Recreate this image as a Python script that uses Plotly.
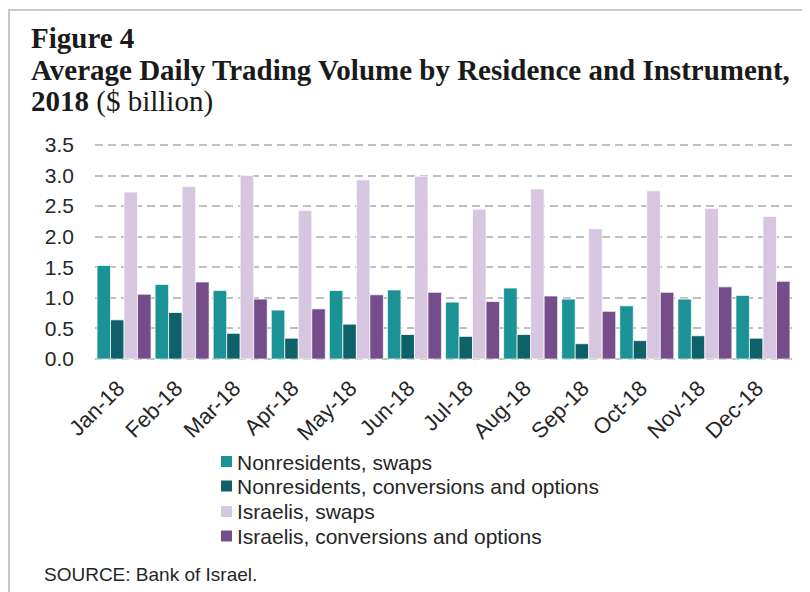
import plotly.graph_objects as go

months = ["Jan-18", "Feb-18", "Mar-18", "Apr-18", "May-18", "Jun-18",
          "Jul-18", "Aug-18", "Sep-18", "Oct-18", "Nov-18", "Dec-18"]
nonres_swaps = [1.53, 1.22, 1.12, 0.80, 1.12, 1.13, 0.93, 1.16, 0.98, 0.87, 0.98, 1.04]
nonres_conv = [0.64, 0.76, 0.42, 0.34, 0.57, 0.40, 0.37, 0.40, 0.25, 0.30, 0.38, 0.34]
isr_swaps = [2.73, 2.82, 3.00, 2.43, 2.93, 2.99, 2.45, 2.78, 2.13, 2.75, 2.46, 2.33]
isr_conv = [1.06, 1.26, 0.98, 0.82, 1.05, 1.09, 0.94, 1.03, 0.78, 1.09, 1.18, 1.27]
y_ticks = [0, 0.5, 1, 1.5, 2, 2.5, 3, 3.5]
y_tick_labels = ["0.0", "0.5", "1.0", "1.5", "2.0", "2.5", "3.0", "3.5"]

series_names = ["Nonresidents, swaps", "Nonresidents, conversions and options",
                "Israelis, swaps", "Israelis, conversions and options"]
series_values = [nonres_swaps, nonres_conv, isr_swaps, isr_conv]
colors = ["#1A9296", "#0E6168", "#D6C6DF", "#744D8A"]

# the page body adds an 8px margin; work in window pixels and shift
OFF = 8
W, H = 810 - OFF, 592 - OFF
PAD = 3  # extra px above 3.5 and below 0 so the end gridlines are drawn
Y0, Y35 = 359, 145  # window px of 0.0 and 3.5
L, R, T, B = 95, 792, Y35 - PAD, Y0 + PAD  # plot area edges in window pixels
unit = (Y0 - Y35) / 3.5


def px_x(p):
    return (p - L) / (R - L)


def px_y(p):
    return (B - p) / (B - T)


fig = go.Figure()
for name, vals, col in zip(series_names, series_values, colors):
    fig.add_trace(go.Bar(
        x=months, y=vals, name=name, showlegend=False,
        marker=dict(color=col, line=dict(color="rgba(255,255,255,0.7)", width=1)),
    ))

sans = "Arial, Liberation Sans, sans-serif"
serif = "Times New Roman, Liberation Serif, serif"
txt = "#262626"

fig.update_layout(
    width=W, height=H,
    margin=dict(l=L - OFF, r=W - (R - OFF), t=T - OFF, b=H - (B - OFF), autoexpand=False),
    paper_bgcolor="white", plot_bgcolor="white",
    barmode="group", bargap=0.07, bargroupgap=0,
    font=dict(family=sans, color=txt, size=20),
    showlegend=False,
    xaxis=dict(
        tickangle=-45, showgrid=False, zeroline=False, showline=False,
        ticks="", ticklabelstandoff=8, ticklabelshift=-6,
        tickfont=dict(size=22, family=sans, color=txt),
    ),
    yaxis=dict(
        range=[-PAD / unit, 3.5 + PAD / unit], tickvals=y_ticks, ticktext=y_tick_labels,
        showgrid=True, gridcolor="#BFBFBF", gridwidth=2, griddash="8px,5px",
        zeroline=False, showline=False, ticks="",
        ticklabelstandoff=20,
        tickfont=dict(size=21, family=sans, color=txt),
    ),
)

# outer frame (top and left edges visible)
fig.add_shape(type="rect", xref="paper", yref="paper",
              x0=px_x(9), x1=px_x(830), y0=px_y(620), y1=px_y(10),
              line=dict(color="#C8C8C8", width=2), fillcolor="rgba(0,0,0,0)", layer="below")

# title
fig.add_annotation(text="<b>Figure 4</b>", xref="paper", yref="paper",
                   x=px_x(29), y=px_y(38), xanchor="left", yanchor="middle",
                   showarrow=False, font=dict(family=serif, size=29, color="#1a1a1a"))
fig.add_annotation(text="<b>Average Daily Trading Volume by Residence and Instrument,</b>",
                   xref="paper", yref="paper",
                   x=px_x(29), y=px_y(70), xanchor="left", yanchor="middle",
                   showarrow=False, font=dict(family=serif, size=29, color="#1a1a1a"))
fig.add_annotation(text="<b>2018</b> ($ billion)", xref="paper", yref="paper",
                   x=px_x(29), y=px_y(101), xanchor="left", yanchor="middle",
                   showarrow=False, font=dict(family=serif, size=29, color="#1a1a1a"))

# legend (drawn manually for exact spacing)
row_y = [461.5, 486, 511.5, 536]
for name, col, ry in zip(series_names, colors, row_y):
    fig.add_shape(type="rect", xref="paper", yref="paper",
                  x0=px_x(221), x1=px_x(232), y0=px_y(ry + 5.5), y1=px_y(ry - 5.5),
                  line=dict(width=0), fillcolor=col)
    fig.add_annotation(text=name, xref="paper", yref="paper",
                       x=px_x(235), y=px_y(ry + 0.5), xanchor="left", yanchor="middle",
                       showarrow=False, font=dict(family=sans, size=21, color=txt))

fig.add_annotation(text="SOURCE: Bank of Israel.", xref="paper", yref="paper",
                   x=px_x(42), y=px_y(574), xanchor="left", yanchor="middle",
                   showarrow=False, font=dict(family=sans, size=19, color=txt))

fig.write_html("out.html")
